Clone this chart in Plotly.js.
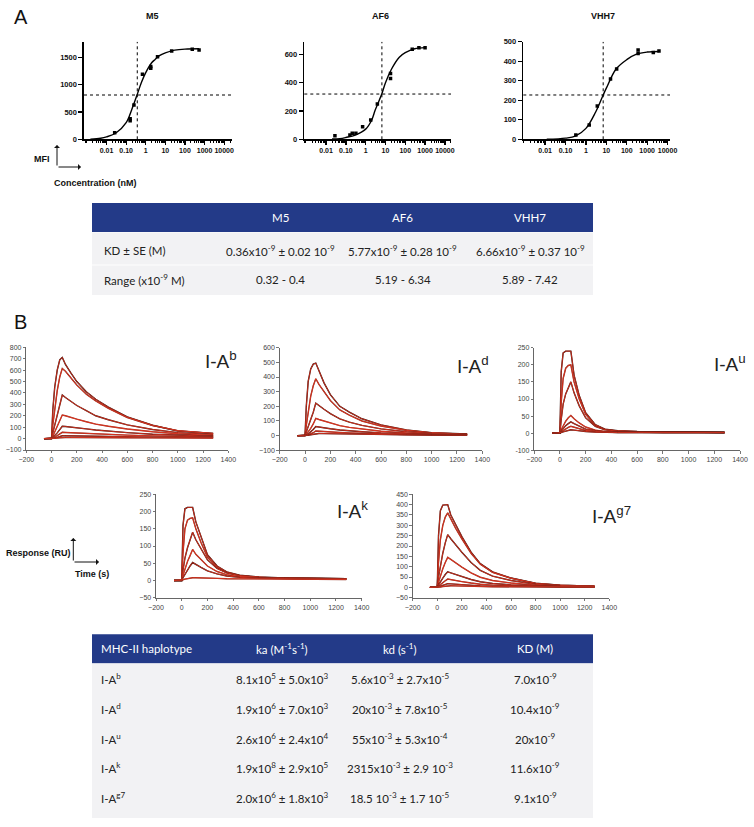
<!DOCTYPE html>
<html><head><meta charset="utf-8">
<script src="https://cdn.plot.ly/plotly-3.0.1.min.js"></script>
<style>html,body{margin:0;padding:0;background:#fff}#c{width:754px;height:827px}</style>
</head><body><div id="c"></div>
<script>
// ---------- Panel A data (dose response) ----------
const m5_conc = [0.026, 0.16, 0.16, 0.25, 0.68, 1.8, 1.8, 4, 21, 236, 525];
const m5_mfi  = [121, 340, 375, 627, 1189, 1300, 1330, 1511, 1615, 1646, 1633];
const m5_fit_x = [0.0015, 0.005, 0.01, 0.03, 0.1, 0.2, 0.36, 0.6, 1, 2, 3, 5, 10, 30, 100, 525];
const m5_fit_y = [3, 20, 45, 115, 305, 560, 810, 1040, 1220, 1400, 1460, 1530, 1580, 1630, 1650, 1655];
const m5_kd = 0.37, m5_half = 810;

const af6_conc = [0.028, 0.16, 0.21, 0.32, 0.7, 1.8, 3.9, 18, 18, 225, 490, 1000];
const af6_mfi  = [25, 30, 42, 42, 89, 136, 249, 466, 430, 637, 647, 647];
const af6_fit_x = [0.02, 0.05, 0.1, 0.3, 1, 2, 3, 6.5, 10, 20, 50, 100, 300, 1000];
const af6_fit_y = [2, 5, 13, 30, 72, 135, 205, 320, 400, 495, 580, 612, 640, 648];
const af6_kd = 6.6, af6_half = 320;

const vhh7_conc = [0.32, 1.45, 3.6, 16, 32, 360, 360, 2000, 3800];
const vhh7_mfi  = [22, 73, 170, 309, 360, 440, 457, 445, 452];
const vhh7_fit_x = [0.012, 0.1, 0.3, 1, 3, 7, 10, 30, 100, 300, 1000, 3800];
const vhh7_fit_y = [0, 6, 16, 56, 140, 227, 262, 360, 408, 436, 447, 450];
const vhh7_kd = 7.0, vhh7_half = 227;

const logTickVals = [0.01, 0.1, 1, 10, 100, 1000, 10000];
const logTickText = ['0.01', '0.10', '1', '10', '100', '1000', '10000'];

// ---------- Panel B data (SPR sensorgrams) ----------
const tB = [-60, 0, 10, 25, 45, 65, 85, 110, 150, 200, 275, 350, 450, 600, 800, 1000, 1280];
const iab = [
  [0,0,250,450,600,690,712,650,580,500,410,345,275,190,117,67,44],
  [0,0,120,270,420,540,615,590,540,470,390,330,265,185,115,70,45],
  [0,0,50,120,210,300,382,360,330,290,245,200,165,120,80,52,33],
  [0,0,20,55,100,150,207,200,185,170,148,127,108,84,60,42,28],
  [0,0,10,25,50,78,108,106,102,95,85,75,65,52,38,28,20],
  [0,0,5,12,25,40,55,54,52,50,45,40,36,30,24,18,14],
  [0,0,2,5,11,18,25,25,24,23,21,20,18,16,13,11,9],
  [0,0,1,2,4,7,10,10,10,9,9,8,8,7,6,5,4]
];
const iad = [
  [0,0,200,370,455,488,495,440,360,280,200,160,115,73,39,20,11],
  [0,0,70,170,270,340,388,350,300,240,175,140,100,65,36,19,10],
  [0,0,25,60,110,160,222,205,180,150,115,92,70,46,27,15,9],
  [0,0,10,25,50,80,118,110,100,85,68,56,44,30,18,11,7],
  [0,0,5,12,25,42,62,58,54,47,39,33,27,19,12,8,5],
  [0,0,2,6,12,20,32,30,28,25,21,18,15,11,8,5,4],
  [0,0,1,3,6,10,15,15,14,13,11,10,8,7,5,4,3]
];
const iau = [
  [0,0,180,235,240,240,240,170,110,60,25,12,7,5,4,3,2],
  [0,0,90,160,190,198,200,150,100,55,23,11,6,4,3,3,2],
  [0,0,40,85,115,135,150,118,80,45,20,10,6,4,3,2,2],
  [0,0,10,22,35,45,52,42,30,18,9,5,4,3,2,2,2],
  [0,0,6,14,22,28,33,28,20,12,7,4,3,2,2,2,2],
  [0,0,4,8,13,17,20,17,13,8,5,3,2,2,2,2,2],
  [0,0,2,4,6,8,10,9,7,5,3,2,2,2,2,2,2]
];
const iak = [
  [0,0,160,208,212,212,212,170,125,75,42,25,15,10,7,6,5],
  [0,0,80,150,175,180,182,150,110,68,38,23,14,9,7,6,5],
  [0,0,30,65,95,120,140,118,92,60,35,22,14,9,7,6,5],
  [0,0,15,35,55,72,90,76,60,42,26,17,11,8,6,5,4],
  [0,0,8,18,30,42,52,46,38,28,19,13,9,7,5,4,4],
  [0,0,2,4,6,7,8,8,7,7,6,5,5,4,4,3,3]
];
const iag7 = [
  [0,0,250,370,398,400,400,350,300,245,170,115,75,45,20,10,6],
  [0,0,120,230,300,340,360,330,285,235,165,112,72,44,19,10,6],
  [0,0,50,110,165,215,255,235,205,170,120,82,54,33,15,8,5],
  [0,0,25,55,90,120,145,135,118,98,70,49,33,21,10,6,4],
  [0,0,12,28,45,62,75,70,62,52,38,27,19,12,7,4,3],
  [0,0,6,14,22,32,40,38,34,28,21,15,11,7,5,3,3],
  [0,0,3,6,10,14,18,17,15,13,10,7,5,4,3,2,2],
  [0,0,1,2,4,6,8,8,7,6,5,4,3,3,2,2,2]
];

// ---------- Tables ----------
const tableA_header = ['', 'M5', 'AF6', 'VHH7'];
const tableA_rowLabels = ['KD ± SE (M)', 'Range (x10<sup>-9</sup> M)'];
const tableA_kd = ['0.36x10<sup>-9</sup> ± 0.02 10<sup>-9</sup>', '5.77x10<sup>-9</sup> ± 0.28 10<sup>-9</sup>', '6.66x10<sup>-9</sup> ± 0.37 10<sup>-9</sup>'];
const tableA_range = ['0.32 - 0.4', '5.19 - 6.34', '5.89 - 7.42'];

const tableB_header = ['MHC-II haplotype', 'ka (M<sup>-1</sup>s<sup>-1</sup>)', 'kd (s<sup>-1</sup>)', 'KD (M)'];
const tableB_hap = ['I-A<sup>b</sup>', 'I-A<sup>d</sup>', 'I-A<sup>u</sup>', 'I-A<sup>k</sup>', 'I-A<sup>g7</sup>'];
const tableB_ka = ['8.1x10<sup>5</sup> ± 5.0x10<sup>3</sup>', '1.9x10<sup>6</sup> ± 7.0x10<sup>3</sup>', '2.6x10<sup>6</sup> ± 2.4x10<sup>4</sup>', '1.9x10<sup>8</sup> ± 2.9x10<sup>5</sup>', '2.0x10<sup>6</sup> ± 1.8x10<sup>3</sup>'];
const tableB_kd = ['5.6x10<sup>-3</sup> ± 2.7x10<sup>-5</sup>', '20x10<sup>-3</sup> ± 7.8x10<sup>-5</sup>', '55x10<sup>-3</sup> ± 5.3x10<sup>-4</sup>', '2315x10<sup>-3</sup> ± 2.9 10<sup>-3</sup>', '18.5 10<sup>-3</sup> ± 1.7 10<sup>-5</sup>'];
const tableB_KD = ['7.0x10<sup>-9</sup>', '10.4x10<sup>-9</sup>', '20x10<sup>-9</sup>', '11.6x10<sup>-9</sup>', '9.1x10<sup>-9</sup>'];

// ---------- Drawing ----------
const W = 754, H = 827;
const PX = p => p / W, PY = p => 1 - p / H;
const FONT = 'Liberation Sans', TFONT = 'Lato';
const traces = [], shapes = [], ann = [];
const layout = {width: W, height: H, margin: {l:0, r:0, t:0, b:0}, showlegend: false,
  paper_bgcolor: '#fff', plot_bgcolor: 'rgba(0,0,0,0)', shapes: shapes, annotations: ann};

const minorLog = [];
for (let e = -4; e <= 4; e++) for (let k = 2; k <= 9; k++) minorLog.push(k * Math.pow(10, e));

function panelA(n, x0, x1, xr, yMax, dtick, conc, mfi, fx, fy, kd, half, title, tx) {
  const xa = 'xaxis' + (n === 1 ? '' : n), ya = 'yaxis' + (n === 1 ? '' : n);
  const xs = 'x' + (n === 1 ? '' : n), ys = 'y' + (n === 1 ? '' : n);
  const common = {showline: true, linecolor: '#000', linewidth: 1.6, ticks: 'outside', tickcolor: '#000',
    tickwidth: 1.3, ticklen: 4, showgrid: false, zeroline: false, fixedrange: true,
    tickfont: {family: FONT, size: 7.5, color: '#111', weight: 'bold'}};
  layout[xa] = Object.assign({}, common, {domain: [PX(x0), PX(x1)], type: 'log', range: xr, anchor: ys,
    tickmode: 'array', tickvals: logTickVals, ticktext: logTickText, tickangle: 0,
    tickfont: {family: FONT, size: 7, color: '#111', weight: 'bold'},
    minor: {tickmode: 'array', tickvals: minorLog, ticks: 'outside', ticklen: 2.5, tickwidth: 1, tickcolor: '#000'}});
  layout[ya] = Object.assign({}, common, {domain: [PY(139.3), PY(41.7)], range: [0, yMax], anchor: xs,
    tick0: 0, dtick: dtick});
  traces.push({x: [kd, kd], y: [0, yMax], xaxis: xs, yaxis: ys, mode: 'lines', line: {color: '#000', width: 1, dash: 'dot'}, hoverinfo: 'skip'});
  shapes.push({type: 'line', xref: xs + ' domain', yref: ys, x0: 0, x1: 1, y0: half, y1: half, line: {color: '#000', width: 1, dash: 'dot'}});
  traces.push({x: fx, y: fy, xaxis: xs, yaxis: ys, mode: 'lines', line: {color: '#000', width: 1.4, shape: 'spline'}});
  traces.push({x: conc, y: mfi, xaxis: xs, yaxis: ys, mode: 'markers', marker: {symbol: 'square', size: 3.5, color: '#000'}});
  ann.push({xref: 'paper', yref: 'paper', x: PX(tx), y: PY(16), text: '<b>' + title + '</b>', showarrow: false,
    xanchor: 'center', yanchor: 'middle', font: {family: FONT, size: 9, color: '#111'}});
}
panelA(1, 84, 232, [-3.15, 4.4], 1785, 500, m5_conc, m5_mfi, m5_fit_x, m5_fit_y, m5_kd, m5_half, 'M5', 152);
panelA(2, 304.3, 451, [-3.1, 4.31], 690, 200, af6_conc, af6_mfi, af6_fit_x, af6_fit_y, af6_kd, af6_half, 'AF6', 380);
panelA(3, 523.3, 670, [-3.07, 4.12], 500, 100, vhh7_conc, vhh7_mfi, vhh7_fit_x, vhh7_fit_y, vhh7_kd, vhh7_half, 'VHH7', 603);

const darkCols = ['#2e100c', '#8a2c1e', '#4a1a12', '#a03424', '#3b1510', '#8a2c1e', '#3b1510', '#7a2a1e'];
function panelB(n, x0, x1, y0, y1, yr, dtick, curves, label, lx, ly, ticktext) {
  const xa = 'xaxis' + n, ya = 'yaxis' + n, xs = 'x' + n, ys = 'y' + n;
  const common = {showline: true, linecolor: '#555', linewidth: 0.9, ticks: 'outside', tickcolor: '#555',
    tickwidth: 0.8, ticklen: 2.5, showgrid: false, zeroline: false, fixedrange: true, tickangle: 0,
    tickfont: {family: FONT, size: 7, color: '#444'}};
  layout[xa] = Object.assign({}, common, {domain: [PX(x0), PX(x1)], range: [-200, 1400], tick0: -200, dtick: 200, anchor: ys});
  layout[ya] = Object.assign({}, common, {domain: [PY(y1), PY(y0)], range: yr, tick0: 0, dtick: dtick, anchor: xs});
  if (ticktext) { layout[ya].tickmode = 'array'; layout[ya].tickvals = ticktext[0]; layout[ya].ticktext = ticktext[1]; }
  curves.forEach((c, i) => {
    traces.push({x: tB, y: c, xaxis: xs, yaxis: ys, mode: 'lines', line: {color: darkCols[i % darkCols.length], width: 1.4}, hoverinfo: 'skip'});
    traces.push({x: tB, y: c, xaxis: xs, yaxis: ys, mode: 'lines', line: {color: '#e8341f', width: 0.8}, hoverinfo: 'skip'});
  });
  ann.push({xref: 'paper', yref: 'paper', x: PX(lx), y: PY(ly), text: label, showarrow: false,
    xanchor: 'left', yanchor: 'middle', font: {family: FONT, size: 19, color: '#222'}});
}
panelB(4, 26.3, 228.3, 347.3, 450, [-100, 800], 100, iab, 'I-A<sup>b</sup>', 203, 360);
panelB(5, 279.7, 482.3, 347.7, 450.3, [-100, 600], 100, iad, 'I-A<sup>d</sup>', 455, 365);
panelB(6, 534.2, 740, 347.7, 450.3, [-50, 250], 50, iau, 'I-A<sup>u</sup>', 712, 363,
  [[-50, 0, 50, 100, 150, 200, 250], ['-100', '0', '50', '100', '150', '200', '250']]);
panelB(7, 156, 361.7, 494.3, 597.7, [-50, 250], 50, iak, 'I-A<sup>k</sup>', 335, 510);
panelB(8, 412.7, 609.3, 494.3, 597.7, [-50, 450], 50, iag7, 'I-A<sup>g7</sup>', 590, 515);

// Panel letters and axis hint labels
ann.push({xref:'paper', yref:'paper', x: PX(12), y: PY(17), text: 'A', showarrow: false, xanchor: 'left', yanchor: 'middle', font: {family: FONT, size: 20, color: '#111'}});
ann.push({xref:'paper', yref:'paper', x: PX(12), y: PY(322), text: 'B', showarrow: false, xanchor: 'left', yanchor: 'middle', font: {family: FONT, size: 20, color: '#111'}});
ann.push({xref:'paper', yref:'paper', x: PX(42), y: PY(159), text: '<b>MFI</b>', showarrow: false, xanchor: 'center', yanchor: 'middle', font: {family: FONT, size: 9, color: '#111'}});
ann.push({xref:'paper', yref:'paper', x: PX(95), y: PY(183), text: '<b>Concentration (nM)</b>', showarrow: false, xanchor: 'center', yanchor: 'middle', font: {family: FONT, size: 9, color: '#111'}});
ann.push({xref:'paper', yref:'paper', x: PX(38), y: PY(553), text: '<b>Response (RU)</b>', showarrow: false, xanchor: 'center', yanchor: 'middle', font: {family: FONT, size: 9, color: '#111'}});
ann.push({xref:'paper', yref:'paper', x: PX(92), y: PY(574), text: '<b>Time (s)</b>', showarrow: false, xanchor: 'center', yanchor: 'middle', font: {family: FONT, size: 9, color: '#111'}});
function arrow(hx, hy, ax, ay) {
  ann.push({xref:'paper', yref:'paper', x: PX(hx), y: PY(hy), ax: ax, ay: ay, text: '', showarrow: true,
    arrowhead: 1, arrowsize: 1, arrowwidth: 1, arrowcolor: '#111'});
}
arrow(57, 145, 0, 22); arrow(81, 167, -24, 0);
arrow(73.3, 538, 0, 24); arrow(99, 562, -26, 0);

// Tables
const NAVY = '#233a88', ROW = '#f2f2f4';
function rect(x0, y0, x1, y1, fill) {
  shapes.push({type: 'rect', xref: 'paper', yref: 'paper', x0: PX(x0), x1: PX(x1), y0: PY(y1), y1: PY(y0), fillcolor: fill, line: {width: 0}, layer: 'below'});
}
function txt(x, y, t, anchor, color) {
  ann.push({xref:'paper', yref:'paper', x: PX(x), y: PY(y), text: t, showarrow: false, xanchor: anchor, yanchor: 'middle',
    font: {family: TFONT, size: 11.5, color: color}});
}
// Table A
rect(92, 203, 593, 232, NAVY);
rect(92, 232.5, 593, 264.5, ROW);
rect(92, 265.5, 593, 295, ROW);
const colA = [102, 280, 403, 530];
tableA_header.forEach((h, i) => { if (h) txt(colA[i], 217.5, h, 'center', '#fff'); });
txt(colA[0], 250, tableA_rowLabels[0], 'left', '#222');
txt(colA[0], 280, tableA_rowLabels[1], 'left', '#222');
tableA_kd.forEach((v, i) => txt(colA[i + 1], 250, v, 'center', '#222'));
tableA_range.forEach((v, i) => txt(colA[i + 1], 280, v, 'center', '#222'));
// Table B
rect(92, 634.3, 593, 663.3, NAVY);
const rowY = [678.2, 708.1, 738, 767.8, 797.7];
rect(92, 663.8, 593, 818, ROW);
const colB = [99, 281.7, 400, 535];
txt(colB[0], 648.8, tableB_header[0], 'left', '#fff');
for (let i = 1; i < 4; i++) txt(colB[i], 648.8, tableB_header[i], 'center', '#fff');
rowY.forEach((y, r) => {
  txt(colB[0], y, tableB_hap[r], 'left', '#222');
  txt(colB[1], y, tableB_ka[r], 'center', '#222');
  txt(colB[2], y, tableB_kd[r], 'center', '#222');
  txt(colB[3], y, tableB_KD[r], 'center', '#222');
});

Plotly.newPlot('c', traces, layout, {staticPlot: true, displayModeBar: false});
</script></body></html>
